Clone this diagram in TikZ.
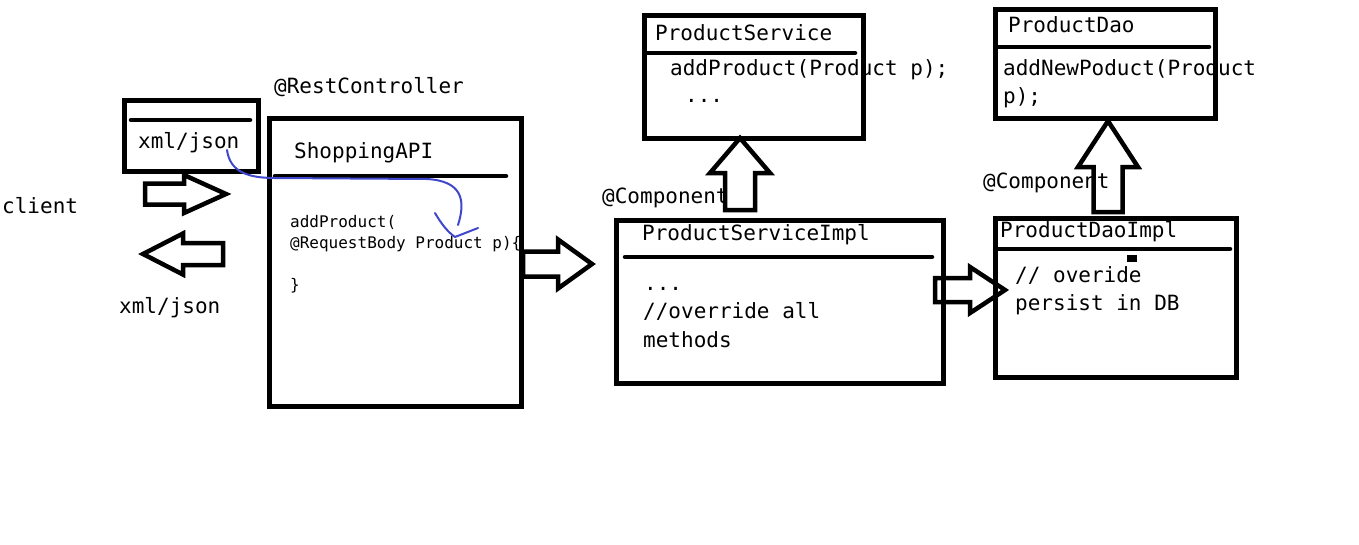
\documentclass[tikz,border=0pt]{standalone}
\usepackage{fontspec}
\setmonofont{DejaVu Sans Mono}
\definecolor{inkblue}{RGB}{63,72,204}
\tikzstyle{box}=[draw,line width=4.5pt,anchor=north west,inner sep=0pt]
\tikzstyle{divider}=[draw,line width=4.5pt,line cap=round]
\tikzstyle{txt}=[anchor=base west,inner sep=0pt,font=\ttfamily\fontsize{21}{25}\selectfont]
\tikzstyle{code}=[anchor=base west,inner sep=0pt,font=\ttfamily\fontsize{16}{19}\selectfont]
\tikzstyle{fat}=[draw,line width=4.5pt,line join=miter]
\tikzstyle{flow}=[draw,line width=2pt,color=inkblue,line cap=round,line join=round]
\newcommand{\codedots}{...}

\begin{document}
\begin{tikzpicture}[x=1pt,y=-1pt]
    \useasboundingbox (0,0) rectangle (1359,544);
    % First the boxes
    \foreach \pos/\name/\w/\h in {{(122,98)/msgbox/134/71}, {(267,116)/shopapi/252/288},
        {(642,13)/service/219/123}, {(614,218)/serviceimpl/327/163},
        {(993,7)/dao/220/109}, {(993,216)/daoimpl/241/159}}
        \node[box,minimum width=\w pt,minimum height=\h pt] (\name) at \pos {};
    % Lines under the class names
    \foreach \from/\to in {{(131,120)/(250,120)}, {(275,176)/(506,176)}, {(646,53)/(855,53)},
        {(625,257)/(932,257)}, {(997,47)/(1209,47)}, {(997,249)/(1230,249)}}
        \path[divider] \from -- \to;
    \fill (1127,255) rectangle (1137,262);
    % Texts
    \foreach \pos/\name/\txt in {{(2,213)/client/client}, {(138,148)/msgin/{xml/json}},
        {(119,313)/msgout/{xml/json}}, {(274,93)/restctl/@RestController},
        {(294,158)/apiname/ShoppingAPI}, {(655,40)/srvname/ProductService},
        {(670,75)/srvadd/addProduct(Product p);}, {(685,102)/srvdots/\codedots},
        {(602,203)/srvcomp/@Component}, {(642,240)/implname/ProductServiceImpl},
        {(644,290)/impldots/\codedots}, {(643,318)/implover/{//override all}},
        {(643,347)/implmeth/methods}, {(1008,32)/daoname/ProductDao},
        {(1003,75)/daoadd/addNewPoduct(Product}, {(1003,103)/daop/p);},
        {(983,188)/daocomp/@Component}, {(1000,237)/diname/ProductDaoImpl},
        {(1015,282)/diover/{// overide}}, {(1015,310)/dipersist/persist in DB}}
        \node[txt] (\name) at \pos {\txt};
    \foreach \pos/\name/\txt in {{(290,227)/apiadd/addProduct(},
        {(290,248)/apibody/@RequestBody Product p)\{}, {(290,290)/apiend/\}}}
        \node[code] (\name) at \pos {\txt};
    % Fat arrows between the parts
    \foreach \pos/\rot/\len/\s/\h/\hl in {{(145,194)/0/81/10.5/19/42}, {(223,254)/180/80/11/20.5/40},
        {(523,264)/0/69/12.5/24.5/34}, {(740,210)/90/72/15/30/35},
        {(935,290)/0/70/12/23/35}, {(1108,212)/90/91/14.5/30/46}}
        \path[fat,shift={\pos},rotate=\rot] (0,-\s) -- (\len-\hl,-\s) -- (\len-\hl,-\h) -- (\len,0)
            -- (\len-\hl,\h) -- (\len-\hl,\s) -- (0,\s) -- cycle;
    % Hand drawn request path
    \coordinate (pick) at (227,150);
    \coordinate (drop) at (458,225);
    \path[flow] (pick) .. controls (230,172) and (248,178) .. (275,178) -- (427,179)
        .. controls (462,181) and (466,200) .. (drop);
    \path[flow] (435,213) .. controls (442,225) and (448,232) .. (455,237) -- (478,228);
\end{tikzpicture}
\end{document}
